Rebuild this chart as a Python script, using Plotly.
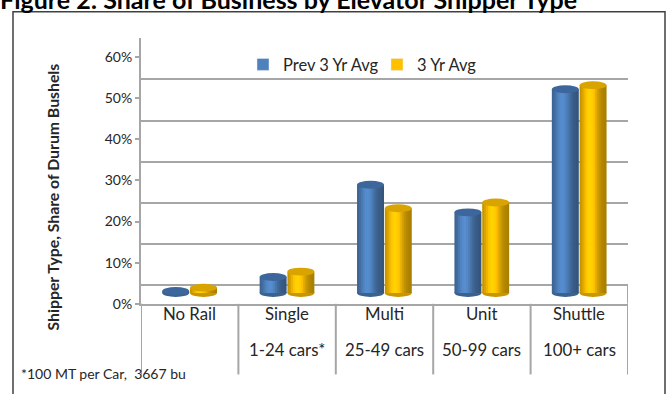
import math
import plotly.graph_objects as go

# ---------------- data ----------------
categories = ["No Rail", "Single", "Multi", "Unit", "Shuttle"]
sub_labels = ["", "1-24 cars*", "25-49 cars", "50-99 cars", "100+ cars"]
series_names = ["Prev 3 Yr Avg", "3 Yr Avg"]
prev_3yr_avg = [0.5, 3.9, 26.3, 19.6, 49.5]
curr_3yr_avg = [1.3, 5.2, 20.6, 22.0, 50.5]
tick_values = [0, 10, 20, 30, 40, 50, 60]
tick_labels = ["0%", "10%", "20%", "30%", "40%", "50%", "60%"]

W, H = 668, 402
FONT = "Lato, 'Open Sans', sans-serif"
TXT = "#262626"
GRID = "#a6a6a6"


def px(x):
    return x / W


def py(y):
    return 1 - y / H


TOP, BOT = 39, 310          # plot area top / bottom (pixels)
BAR0 = 299                   # pixel of 0 for bars
GRID0 = 291                  # pixel of 0 for back-wall grid
TICK0 = 310                  # pixel of 0 for front tick labels
PPU = 4.2                    # pixels per percent


def rng(zero_px):
    return [(zero_px - BOT) / PPU, (zero_px - TOP) / PPU]


dom_y = [py(BOT), py(TOP)]
dom_x = [px(141), px(628)]

bar_w = 0.277
offsets = [-0.282, 0.003]
base_cols = [(79, 129, 189), (255, 192, 0)]
top_cols = ["#3d679c", "#d9a300"]
bot_cols = ["#3b6190", "#c99500"]
N = 14


def shade(rgb, t):
    f = 0.66 + 0.44 * math.exp(-((t - 0.38) / 0.3) ** 2)
    return "rgb(%d,%d,%d)" % tuple(min(255, int(c * f)) for c in rgb)


fig = go.Figure()

fig.add_trace(go.Scatter(x=categories, y=[None] * len(categories), yaxis="y",
                         showlegend=False, hoverinfo="skip"))

values = [prev_3yr_avg, curr_3yr_avg]
for s in range(2):
    sw = bar_w / N
    for k in range(N):
        t = (k + 0.5) / N
        fig.add_trace(go.Bar(
            x=categories, y=values[s], yaxis="y2",
            width=sw * 1.35 if k < N - 1 else sw,
            offset=offsets[s] + k * sw,
            marker=dict(color=shade(base_cols[s], t), line=dict(width=0)),
            name=series_names[s], legendgroup=series_names[s],
            showlegend=False, hoverinfo="skip"))
    fig.add_trace(go.Bar(
        x=categories, y=[None] * len(categories), yaxis="y2",
        marker=dict(color="rgb(%d,%d,%d)" % base_cols[s]),
        name=series_names[s], legendgroup=series_names[s], showlegend=True))

fig.add_trace(go.Scatter(x=categories, y=[None] * len(categories), yaxis="y3",
                         showlegend=False, hoverinfo="skip"))

shapes = []
eh = 4.0 / PPU
for s in range(2):
    for i, v in enumerate(values[s]):
        x0 = i + offsets[s]
        x1 = x0 + bar_w
        shapes.append(dict(type="circle", xref="x", yref="y2", x0=x0, x1=x1,
                           y0=-eh, y1=eh, fillcolor=bot_cols[s],
                           line=dict(width=0), layer="below"))
        shapes.append(dict(type="circle", xref="x", yref="y2", x0=x0, x1=x1,
                           y0=v - eh, y1=v + eh, fillcolor=top_cols[s],
                           line=dict(width=0), layer="above"))

n = len(categories)
shapes.append(dict(type="line", xref="x", yref="y", x0=n - 0.5, x1=n - 0.5,
                   y0=0, y1=rng(GRID0)[0], line=dict(color=GRID, width=2)))
for i in range(n + 1):
    shapes.append(dict(type="line", xref="x", yref="paper", x0=i - 0.5, x1=i - 0.5,
                       y0=py(310), y1=py(382), line=dict(color=GRID, width=2)))
fx0, fx1, fy0, fy1 = px(13), px(665), py(12), py(402)
shapes.append(dict(type="path", xref="paper", yref="paper",
                   path=f"M {fx0} {fy1} L {fx0} {fy0} L {fx1} {fy0} L {fx1} {fy1}",
                   line=dict(color="#404040", width=1.5)))

annotations = []
for i, (c, sl) in enumerate(zip(categories, sub_labels)):
    annotations.append(dict(x=i, y=py(333), xref="x", yref="paper", text=c,
                            showarrow=False, font=dict(size=16.8, color=TXT, family=FONT)))
    if sl:
        annotations.append(dict(x=i, y=py(369), xref="x", yref="paper", text=sl,
                                showarrow=False, font=dict(size=16.8, color=TXT, family=FONT)))

annotations.append(dict(x=px(40), y=py(201), xref="paper", yref="paper",
                        text="<b>Shipper Type, Share of Durum Bushels</b>", textangle=-90,
                        showarrow=False, font=dict(size=15.8, color=TXT, family=FONT)))
annotations.append(dict(x=px(19), y=py(392), xref="paper", yref="paper",
                        xanchor="left", text="*100 MT per Car,  3667 bu",
                        showarrow=False, font=dict(size=14, color=TXT, family=FONT)))
annotations.append(dict(x=px(-2), y=py(-1), xref="paper", yref="paper",
                        xanchor="left", yanchor="middle",
                        text="<b>Figure 2: Share of Business by Elevator Shipper Type</b>",
                        showarrow=False, font=dict(size=25, color="#000000", family=FONT)))

fig.update_layout(
    width=W, height=H, autosize=False,
    margin=dict(l=0, r=0, t=0, b=0, pad=0),
    paper_bgcolor="white", plot_bgcolor="white",
    barmode="overlay",
    font=dict(family=FONT, color=TXT),
    xaxis=dict(domain=dom_x, range=[-0.5, n - 0.5], type="category",
               showticklabels=False, ticks="", showgrid=False, zeroline=False,
               showline=True, linecolor=GRID, linewidth=2, fixedrange=True),
    yaxis=dict(domain=dom_y, range=rng(GRID0), tickvals=tick_values,
               showticklabels=False, ticks="", showgrid=True, gridcolor=GRID,
               gridwidth=2, zeroline=False, showline=True, linecolor=GRID,
               linewidth=2, fixedrange=True),
    yaxis2=dict(domain=dom_y, overlaying="y", anchor="x", range=rng(BAR0),
                visible=False, fixedrange=True),
    yaxis3=dict(domain=dom_y, overlaying="y", anchor="x", range=rng(TICK0),
                tickvals=tick_values, ticktext=tick_labels, ticks="outside", ticklen=5,
                tickcolor=GRID, tickwidth=1.5, showgrid=False, zeroline=False,
                showline=False, tickfont=dict(size=14, color=TXT, family=FONT),
                fixedrange=True),
    legend=dict(orientation="h", x=px(243), y=py(66), xanchor="left", yanchor="middle",
                bgcolor="rgba(0,0,0,0)", font=dict(size=16.5, color=TXT, family=FONT),
                itemwidth=30, entrywidth=89, traceorder="normal"),
    shapes=shapes, annotations=annotations,
    showlegend=True,
)

fig.write_html("out.html", config={"displayModeBar": False},
               post_script="document.body.style.margin='0';"
                           "document.body.style.overflow='hidden';"
                           "document.documentElement.style.overflow='hidden';")
